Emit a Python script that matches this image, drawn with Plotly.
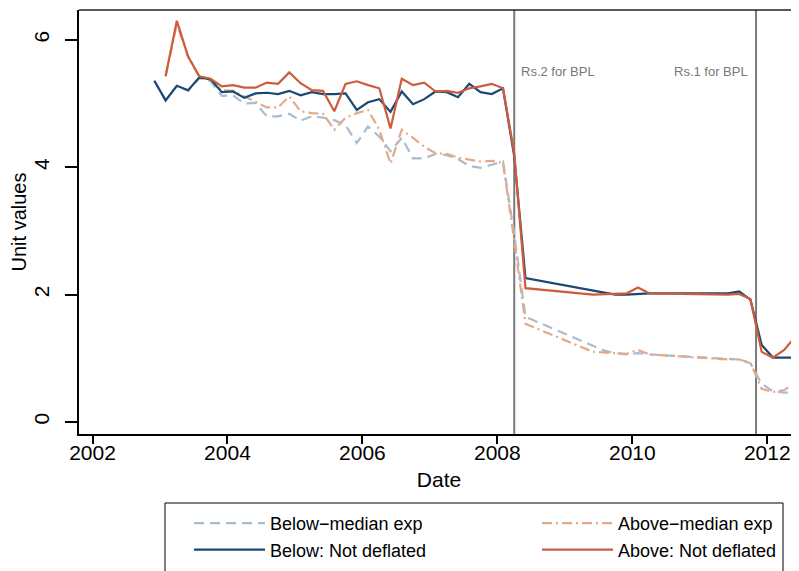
import plotly.graph_objects as go

# ---- data ----
MONTHS = [
    "2002-12", "2003-02", "2003-04", "2003-06", "2003-08", "2003-10", "2003-12",
    "2004-02", "2004-04", "2004-06", "2004-08", "2004-10", "2004-12",
    "2005-02", "2005-04", "2005-06", "2005-08", "2005-10", "2005-12",
    "2006-02", "2006-04", "2006-06", "2006-08", "2006-10", "2006-12",
    "2007-02", "2007-04", "2007-06", "2007-08", "2007-10", "2007-12",
    "2008-02", "2008-04", "2008-06",
    "2009-06", "2009-08", "2009-10", "2009-12", "2010-02", "2010-04",
    "2011-06", "2011-08", "2011-10", "2011-12", "2012-02", "2012-04", "2012-06",
]

below_median_exp = [
    5.36, 5.05, 5.28, 5.20, 5.40, 5.35, 5.12,
    5.13, 5.00, 5.01, 4.80, 4.80, 4.84,
    4.73, 4.80, 4.78, 4.74, 4.66, 4.38,
    4.64, 4.48, 4.25, 4.46, 4.14, 4.14,
    4.21, 4.19, 4.13, 4.02, 3.99, 4.04,
    4.09, 2.95, 1.65,
    None, 1.12, 1.08, 1.06, 1.08, 1.06,
    0.99, 0.98, 0.92, 0.60, 0.48, 0.46, 0.46,
]

above_median_exp = [
    None, 5.43, 6.25, 5.74, 5.42, 5.37, 5.21,
    5.20, 5.11, 5.02, 4.94, 4.94, 5.11,
    4.88, 4.85, 4.84, 4.59, 4.78, 4.85,
    4.90, 4.59, 4.06, 4.59, 4.46, 4.32,
    4.22, 4.21, 4.15, 4.12, 4.09, 4.10,
    4.07, 2.85, 1.54,
    1.10, None, None, 1.07, 1.13, 1.06,
    0.98, 0.98, 0.93, 0.52, 0.47, 0.50, 0.62,
]

below_not_deflated = [
    5.36, 5.05, 5.28, 5.21, 5.41, 5.38, 5.18,
    5.19, 5.09, 5.16, 5.17, 5.15, 5.20,
    5.13, 5.18, 5.15, 5.15, 5.16, 4.90,
    5.02, 5.07, 4.87, 5.19, 4.99, 5.07,
    5.19, 5.18, 5.10, 5.31, 5.18, 5.15,
    5.24, 4.17, 2.26,
    None, 2.03, 2.00, 2.00, 2.01, 2.02,
    2.02, 2.05, 1.92, 1.21, 1.01, 1.01, 1.01,
]

above_not_deflated = [
    None, 5.43, 6.30, 5.74, 5.43, 5.39, 5.27,
    5.29, 5.25, 5.25, 5.33, 5.31, 5.49,
    5.32, 5.21, 5.20, 4.88, 5.31, 5.35,
    5.29, 5.24, 4.61, 5.39, 5.29, 5.33,
    5.19, 5.20, 5.17, 5.24, 5.27, 5.31,
    5.24, 4.22, 2.10,
    2.00, None, None, 2.02, 2.11, 2.02,
    2.00, 2.01, 1.93, 1.10, 1.01, 1.13, 1.34,
]

POLICY_MONTHS = ["2008-04", "2011-11"]
POLICY_LABELS = ["Rs.2 for BPL", "Rs.1 for BPL"]
LABEL_LEVEL = 5.5

X_TICKS = [2002, 2004, 2006, 2008, 2010, 2012]
Y_TICKS = [0, 2, 4, 6]


def to_year(m):
    y, mo = m.split("-")
    return int(y) + (int(mo) - 1) / 12.0


x = [to_year(m) for m in MONTHS]
vlines = [to_year(m) for m in POLICY_MONTHS]

FONT = "Liberation Sans, Arial, Helvetica, sans-serif"

# page body has an 8px default margin: figure is 8px smaller each way
W, H = 791, 563
ML, MT, MB = 71, 2, 137
PW, PH = W - ML, H - MT - MB  # plot area size (720 x 424)
PLOT_BOTTOM = MT + PH


def px_to_paper_x(px):
    return (px - ML) / PW


def px_to_paper_y(py):
    return (PLOT_BOTTOM - py) / PH


fig = go.Figure()

series = [
    ("Below\u2212median exp", below_median_exp, "#a9bdd1", "10px,6px"),
    ("Above\u2212median exp", above_median_exp, "#e5a987", "10px,4px,2px,4px"),
    ("Below: Not deflated", below_not_deflated, "#1b4872", "solid"),
    ("Above: Not deflated", above_not_deflated, "#cf5b3d", "solid"),
]
for name, vals, color, dash in series:
    fig.add_trace(go.Scatter(
        x=x, y=vals, name=name, mode="lines", connectgaps=True,
        line=dict(color=color, width=2.2, dash=dash),
    ))

for xv in vlines:
    fig.add_shape(type="line", xref="x", yref="paper", x0=xv, x1=xv, y0=0, y1=1,
                  line=dict(color="#7a7a7a", width=2), layer="below")

# top frame line
fig.add_shape(type="line", xref="paper", yref="paper", x0=0, x1=1, y0=1, y1=1,
              line=dict(color="#222222", width=1.5))

# legend frame (runs off the bottom of the page, as in the reference)
fig.add_shape(type="rect", xref="paper", yref="paper",
              x0=px_to_paper_x(157), x1=px_to_paper_x(775),
              y0=px_to_paper_y(575), y1=px_to_paper_y(495),
              line=dict(color="black", width=1), fillcolor="rgba(0,0,0,0)")

fig.add_annotation(x=vlines[0], y=LABEL_LEVEL, xref="x", yref="y", text=POLICY_LABELS[0],
                   showarrow=False, xanchor="left", xshift=5,
                   font=dict(size=13, color="#777777", family=FONT))
fig.add_annotation(x=vlines[1], y=LABEL_LEVEL, xref="x", yref="y", text=POLICY_LABELS[1],
                   showarrow=False, xanchor="right", xshift=-6,
                   font=dict(size=13, color="#777777", family=FONT))

fig.update_layout(
    width=W, height=H,
    margin=dict(l=ML, r=0, t=MT, b=MB, autoexpand=False),
    paper_bgcolor="white", plot_bgcolor="white",
    font=dict(family=FONT, size=21, color="black"),
    showlegend=True,
    legend=dict(
        orientation="h", xref="container", yref="container",
        x=181 / W, xanchor="left", y=1 - 497 / H, yanchor="top",
        borderwidth=0, bgcolor="rgba(0,0,0,0)",
        font=dict(size=18, family=FONT),
        itemwidth=71, entrywidth=262, entrywidthmode="pixels",
        tracegroupgap=0,
    ),
    xaxis=dict(
        range=[2001.80, 2012.47], tickvals=X_TICKS, ticktext=[str(v) for v in X_TICKS],
        showgrid=False, zeroline=False, showline=True, linecolor="black", linewidth=1.5,
        ticks="outside", ticklen=8, tickwidth=1.5, tickcolor="black",
        ticklabelstandoff=-9,
        title=dict(text="Date", standoff=9, font=dict(size=21)),
        tickfont=dict(size=21), automargin=False,
    ),
    yaxis=dict(
        range=[-0.19, 6.47], tickvals=Y_TICKS, ticktext=[str(v) for v in Y_TICKS],
        showgrid=False, zeroline=False, showline=True, linecolor="black", linewidth=1.5,
        ticks="outside", ticklen=12, tickwidth=1.5, tickcolor="black",
        tickangle=-90, ticklabelstandoff=8,
        title=dict(text="Unit values", standoff=2, font=dict(size=20)),
        tickfont=dict(size=21), automargin=False,
    ),
)

fig.write_html("out.html")
